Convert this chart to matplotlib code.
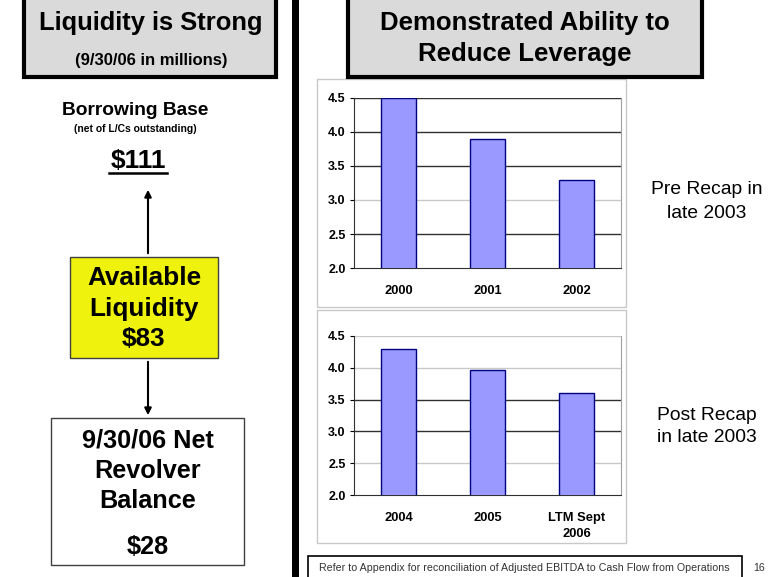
import matplotlib.pyplot as plt
from matplotlib.patches import Rectangle, FancyArrowPatch

plt.rcParams['font.family'] = ['Liberation Sans', 'DejaVu Sans']

W, H = 771, 577

# chart data
pre_years = ['2000', '2001', '2002']
pre_lev = [4.5, 3.9, 3.3]
post_years = ['2004', '2005', 'LTM Sept\n2006']
post_lev = [4.3, 3.97, 3.6]
lev_ticks = [2.0, 2.5, 3.0, 3.5, 4.0, 4.5]

# liquidity figures (millions)
borrowing_base = 111
available = 83
revolver = 28


def fx(x):
    return x / W


def fy(y):
    return 1 - y / H


def box(x0, y0, x1, y1, **kw):
    """rectangle in pixel coords (top-left origin)"""
    r = Rectangle((fx(x0), fy(y1)), fx(x1) - fx(x0), fy(y0) - fy(y1),
                  transform=fig.transFigure, **kw)
    fig.add_artist(r)
    return r


def txt(x, y, s, **kw):
    kw.setdefault('ha', 'center')
    kw.setdefault('va', 'center')
    return fig.text(fx(x), fy(y), s, **kw)


fig = plt.figure(figsize=(W / 100, H / 100), dpi=100)

# ---- left panel ----
box(24, -3, 276, 77, facecolor='#dadada', edgecolor='black', linewidth=3)
txt(151, 23, 'Liquidity is Strong', fontsize=18.4, fontweight='bold')
txt(151, 60, '(9/30/06 in millions)', fontsize=12, fontweight='bold')

txt(135, 111, 'Borrowing Base', fontsize=13.8, fontweight='bold')
txt(135, 129, '(net of L/Cs outstanding)', fontsize=7.5, fontweight='bold')
txt(138, 161, '$%d' % borrowing_base, fontsize=19, fontweight='bold')
fig.add_artist(plt.Line2D([fx(109), fx(167)], [fy(173), fy(173)],
                          transform=fig.transFigure, color='black', lw=1.8))

fig.add_artist(FancyArrowPatch((fx(148), fy(256)), (fx(148), fy(187)),
                               transform=fig.transFigure, arrowstyle='-|>',
                               mutation_scale=10, color='black', lw=1.5))
fig.add_artist(FancyArrowPatch((fx(148), fy(359)), (fx(148), fy(418)),
                               transform=fig.transFigure, arrowstyle='-|>',
                               mutation_scale=10, color='black', lw=1.5))

box(70, 257, 218, 358, facecolor='#eef20c', edgecolor='#404040', linewidth=1)
txt(144, 278, 'Available', fontsize=18.8, fontweight='bold')
txt(144, 309, 'Liquidity', fontsize=18.8, fontweight='bold')
txt(144, 339, '$%d' % available, fontsize=18.8, fontweight='bold')

box(51, 418, 244, 565, facecolor='white', edgecolor='#404040', linewidth=1)
txt(148, 440, '9/30/06 Net', fontsize=18.2, fontweight='bold')
txt(148, 471, 'Revolver', fontsize=18.2, fontweight='bold')
txt(148, 501, 'Balance', fontsize=18.2, fontweight='bold')
txt(148, 547, '$%d' % revolver, fontsize=18.2, fontweight='bold')

# divider bar
box(292, 0, 299, H, facecolor='black', edgecolor='none')

# ---- right panel ----
box(348, -3, 702, 77, facecolor='#dadada', edgecolor='black', linewidth=3)
txt(525, 23, 'Demonstrated Ability to', fontsize=18.5, fontweight='bold')
txt(525, 54, 'Reduce Leverage', fontsize=18.5, fontweight='bold')

box(317, 79, 626, 307, facecolor='white', edgecolor='#c8c8c8', linewidth=1, zorder=0)
box(317, 310, 626, 543, facecolor='white', edgecolor='#c8c8c8', linewidth=1, zorder=0)


def lev_chart(rect, cats, vals, light):
    ax = fig.add_axes(rect)
    x = range(len(cats))
    ax.bar(x, vals, width=0.39, color='#9999ff', edgecolor='#000080',
           linewidth=1, zorder=3)
    ax.set_xlim(-0.5, len(cats) - 0.5)
    ax.set_ylim(2.0, 4.5)
    ax.set_yticks(lev_ticks)
    ax.set_yticklabels(['%.1f' % t for t in lev_ticks], fontsize=9, fontweight='bold')
    ax.set_xticks(list(x))
    ax.set_xticklabels(cats, fontsize=9.3, fontweight='bold', linespacing=1.45)
    ax.tick_params(axis='x', length=0, pad=12)
    ax.tick_params(axis='y', length=3, pad=3)
    for t in lev_ticks[1:]:
        c = '#c8c8c8' if t in light else '#303030'
        ax.axhline(t, color=c, lw=1, zorder=1)
    ax.spines['top'].set_visible(False)
    ax.spines['right'].set_color('#a0a0a0')
    ax.spines['left'].set_color('#303030')
    ax.spines['bottom'].set_color('#303030')
    ax.patch.set_alpha(0)
    return ax


lev_chart([fx(354), fy(268), fx(621) - fx(354), fy(98) - fy(268)],
          pre_years, pre_lev, light=[3.0])
lev_chart([fx(354), fy(495), fx(621) - fx(354), fy(336) - fy(495)],
          post_years, post_lev, light=[2.5, 4.0, 4.5])

txt(707, 190, 'Pre Recap in', fontsize=13.9)
txt(707, 213, 'late 2003', fontsize=13.9)
txt(707, 415, 'Post Recap', fontsize=13.9)
txt(707, 438, 'in late 2003', fontsize=13.9)

# footer
box(308, 556, 742, 580, facecolor='white', edgecolor='black', linewidth=1.2)
txt(524, 568, 'Refer to Appendix for reconciliation of Adjusted EBITDA to Cash Flow from Operations',
    fontsize=7.7, color='#333333')
txt(759, 568, '16', fontsize=7.7, color='#333333')

fig.savefig('out.png', dpi=100)
